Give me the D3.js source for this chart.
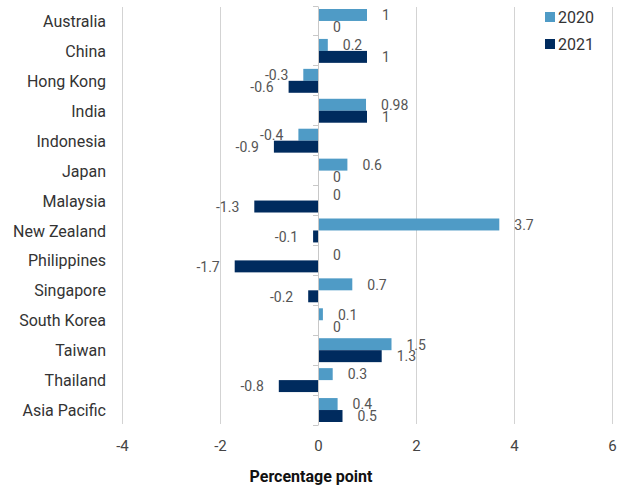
<!DOCTYPE html>
<html><head><meta charset="utf-8">
<script src="https://cdn.jsdelivr.net/npm/d3@7"></script>
<style>body{margin:0;background:#fff;} svg{display:block;}</style>
</head><body>
<svg id="chart" width="622" height="490"></svg>
<script>
const categories = ["Australia","China","Hong Kong","India","Indonesia","Japan","Malaysia","New Zealand","Philippines","Singapore","South Korea","Taiwan","Thailand","Asia Pacific"];
const values2020 = [1,0.2,-0.3,0.98,-0.4,0.6,0,3.7,0,0.7,0.1,1.5,0.3,0.4];
const values2021 = [0,1,-0.6,1,-0.9,0,-1.3,-0.1,-1.7,-0.2,0,1.3,-0.8,0.5];
const seriesNames = ["2020","2021"];
const xTicks = [-4,-2,0,2,4,6];
const colors = ["#4f9bc6","#002b5e"];

const svg = d3.select("#chart");
const font = "Roboto, 'Liberation Sans', Arial, sans-serif";
const m = {left:122, right:10, top:6, bottom:65};
const W = 622, H = 490;
const x = d3.scaleLinear().domain([-4,6]).range([m.left, W - m.right]);
const y = d3.scaleBand().domain(categories).range([m.top, H - m.bottom]);
const sub = d3.scaleBand().domain(seriesNames).range([3, y.bandwidth()-3]);

// gridlines
svg.append("g").selectAll("line").data(xTicks.filter(d=>d!==0)).join("line")
  .attr("x1",d=>x(d)).attr("x2",d=>x(d)).attr("y1",m.top+1).attr("y2",H-m.bottom-1)
  .attr("stroke","#d3d3d3").attr("stroke-width",1).attr("shape-rendering","crispEdges");

// x axis tick labels
const xa = svg.append("g").attr("transform",`translate(0,${H-m.bottom+15})`)
  .call(d3.axisBottom(x).tickValues(xTicks).tickSize(0).tickFormat(d=>d<0?"-"+Math.abs(d):d));
xa.select(".domain").remove();
xa.selectAll("text").attr("font-family",font).attr("font-size",15).attr("fill","#444").attr("dy","0.5em");

// bars
const series = [values2020, values2021];
series.forEach((vals,si)=>{
  const g = svg.append("g");
  g.selectAll("rect").data(vals).join("rect")
    .attr("x",d=>x(Math.min(0,d)))
    .attr("width",d=>Math.abs(x(d)-x(0)))
    .attr("y",(d,i)=>y(categories[i])+sub(seriesNames[si]))
    .attr("height",sub.bandwidth())
    .attr("fill",colors[si]);
  g.selectAll("text").data(vals).join("text")
    .attr("x",d=> d<0 ? x(d)-15 : x(d)+15)
    .attr("text-anchor",d=> d<0 ? "end":"start")
    .attr("y",(d,i)=>y(categories[i])+sub(seriesNames[si])+sub.bandwidth()/2)
    .attr("dy","0.38em")
    .attr("font-family",font).attr("font-size",14).attr("fill","#555")
    .text(d=>String(d));
});

// zero axis with ticks
const ya = svg.append("g").attr("transform",`translate(${x(0)},0)`)
  .call(d3.axisLeft(y).tickValues([]).tickSizeOuter(0));
ya.select(".domain").attr("stroke","#c8c8c8");
const bounds = d3.range(categories.length+1).map(i=>m.top + i*y.step());
svg.append("g").selectAll("line").data(bounds).join("line")
  .attr("x1",x(0)-5).attr("x2",x(0)).attr("y1",d=>d).attr("y2",d=>d)
  .attr("stroke","#c8c8c8").attr("shape-rendering","crispEdges");

// category labels
svg.append("g").selectAll("text").data(categories).join("text")
  .attr("x",106).attr("y",d=>y(d)+y.bandwidth()/2).attr("dy","0.38em")
  .attr("text-anchor","end").attr("font-family",font).attr("font-size",16).attr("fill","#333")
  .text(d=>d);

// axis title
svg.append("text").attr("x",311).attr("y",H-8).attr("text-anchor","middle")
  .attr("font-family",font).attr("font-size",16).attr("font-weight","bold").attr("fill","#111")
  .text("Percentage point");

// legend
const lg = svg.append("g").attr("transform","translate(545,12)");
seriesNames.forEach((s,i)=>{
  lg.append("rect").attr("x",0).attr("y",i*27).attr("width",10).attr("height",10).attr("fill",colors[i]);
  lg.append("text").attr("x",13).attr("y",i*27+5).attr("dy","0.38em")
    .attr("font-family",font).attr("font-size",16).attr("fill","#333").text(s);
});
</script>
</body></html>
